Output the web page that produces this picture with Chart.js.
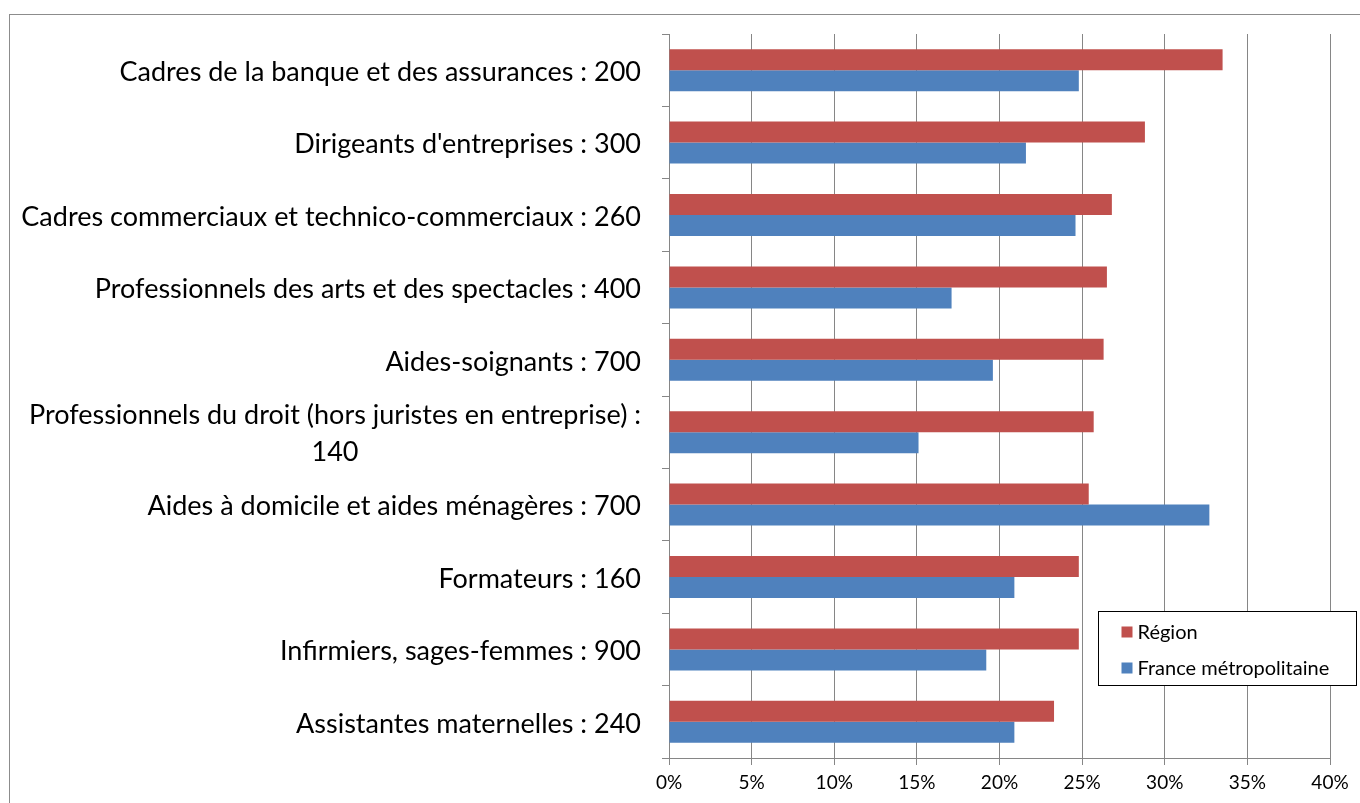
<!DOCTYPE html>
<html>
<head>
<meta charset="utf-8">
<script src="https://cdn.jsdelivr.net/npm/chart.js@4/dist/chart.umd.min.js"></script>
<style>
  body { margin: 0; background: #fff; }
  #wrap { width: 1360px; height: 803px; }
</style>
</head>
<body>
<div id="wrap"><canvas id="chart" width="1360" height="803"></canvas></div>
<script>
// categories (top to bottom), each as lines of text
const categories = [
  ['Cadres de la banque et des assurances : 200'],
  ["Dirigeants d'entreprises : 300"],
  ['Cadres commerciaux et technico-commerciaux : 260'],
  ['Professionnels des arts et des spectacles : 400'],
  ['Aides-soignants : 700'],
  ['Professionnels du droit (hors juristes en entreprise) :', '140'],
  ['Aides à domicile et aides ménagères : 700'],
  ['Formateurs : 160'],
  ['Infirmiers, sages-femmes : 900'],
  ['Assistantes maternelles : 240']
];

// series values, in %
const regionValues = [33.5, 28.8, 26.8, 26.5, 26.3, 25.7, 25.4, 24.8, 24.8, 23.3];
const franceValues = [24.8, 21.6, 24.6, 17.1, 19.6, 15.1, 32.7, 20.9, 19.2, 20.9];

const seriesNames = ['Région', 'France métropolitaine'];
const seriesColors = ['#C0504D', '#4F81BD'];

const xMin = 0, xMax = 40, xStep = 5;

const LABEL_FONT = '27px Lato';
const GRID = '#868686';

/*
PLUGINS
*/
// outer frame of the picture
const framePlugin = {
  id: 'frame',
  beforeDraw(chart) {
    const ctx = chart.ctx;
    ctx.save();
    ctx.strokeStyle = '#8c8c8c';
    ctx.lineWidth = 1;
    ctx.strokeRect(9.5, 14.5, 1400, 900);
    ctx.restore();
  }
};

// category labels: single lines right aligned, wrapped one centred
const catLabelPlugin = {
  id: 'catLabels',
  afterDraw(chart) {
    const ctx = chart.ctx;
    const yScale = chart.scales.y;
    const right = chart.chartArea.left - 28;
    const lineH = 37;
    ctx.save();
    ctx.font = LABEL_FONT;
    ctx.fillStyle = '#000';
    ctx.textBaseline = 'middle';
    categories.forEach((lines, i) => {
      const cy = yScale.getPixelForTick(i);
      if (lines.length === 1) {
        ctx.textAlign = 'right';
        ctx.fillText(lines[0], right, cy + 2);
      } else {
        const w = ctx.measureText(lines[0]).width;
        const cx = right - w / 2;
        ctx.textAlign = 'center';
        lines.forEach((ln, j) => {
          ctx.fillText(ln, cx, cy + 2 + (j - (lines.length - 1) / 2) * lineH);
        });
      }
    });
    ctx.restore();
  }
};

// boxed legend inside the plot, bottom right
const boxLegendPlugin = {
  id: 'boxLegend',
  afterDraw(chart) {
    const ctx = chart.ctx;
    const x = 1098.5, y = 611.5, w = 258, h = 74;
    ctx.save();
    ctx.fillStyle = '#fff';
    ctx.fillRect(x, y, w, h);
    ctx.strokeStyle = '#000';
    ctx.lineWidth = 1;
    ctx.strokeRect(x, y, w, h);
    ctx.font = '20px Lato';
    ctx.textBaseline = 'middle';
    ctx.textAlign = 'left';
    chart.data.datasets.forEach((ds, i) => {
      const iy = y + 20 + i * 36;
      ctx.fillStyle = ds.backgroundColor;
      ctx.fillRect(x + 23, iy - 5, 11, 11);
      ctx.fillStyle = '#000';
      ctx.fillText(ds.label, x + 39, iy + 1);
    });
    ctx.restore();
  }
};

/*
CHART
*/
const chartData = {
  labels: categories.map(c => c.join(' ')),
  datasets: [{
    label: seriesNames[0],
    data: regionValues,
    backgroundColor: seriesColors[0],
    borderWidth: 0,
    barPercentage: 1,
    categoryPercentage: 0.58
  }, {
    label: seriesNames[1],
    data: franceValues,
    backgroundColor: seriesColors[1],
    borderWidth: 0,
    barPercentage: 1,
    categoryPercentage: 0.58
  }]
};

const options = {
  indexAxis: 'y',
  responsive: false,
  animation: false,
  layout: { padding: { top: 34, right: 30, left: 0, bottom: 0 } },
  plugins: {
    legend: { display: false },
    tooltip: { enabled: false }
  },
  scales: {
    x: {
      min: xMin,
      max: xMax,
      grid: { color: GRID, tickLength: 7, lineWidth: 1 },
      border: { color: GRID },
      ticks: {
        stepSize: xStep,
        color: '#000',
        font: { family: 'Lato', size: 19 },
        padding: 6,
        callback: v => v + '%'
      },
      afterFit: s => { s.height = 45; }
    },
    y: {
      grid: { display: true, drawOnChartArea: false, offset: true, tickLength: 7, color: GRID },
      border: { color: GRID },
      ticks: { display: false },
      afterFit: s => { s.width = 669; }
    }
  }
};

let chart = new Chart(document.getElementById('chart'), {
  type: 'bar',
  data: chartData,
  options: options,
  plugins: [framePlugin, catLabelPlugin, boxLegendPlugin]
});
</script>
</body>
</html>
